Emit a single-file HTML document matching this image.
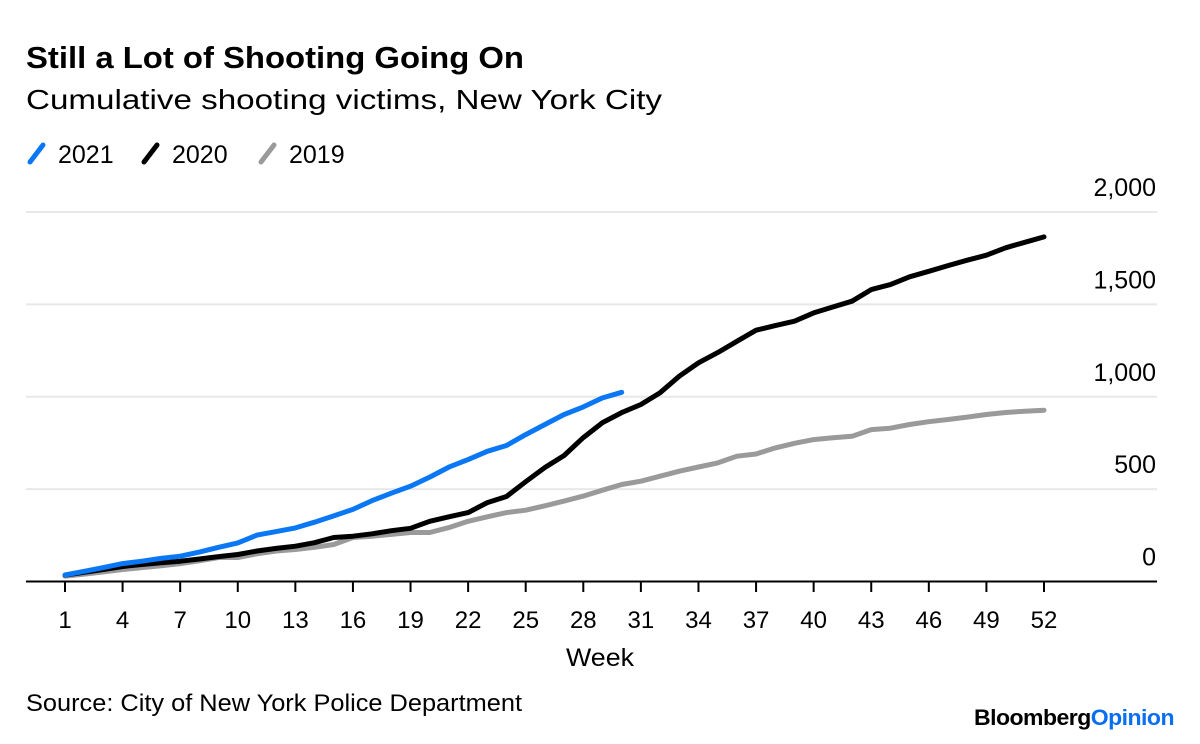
<!DOCTYPE html>
<html><head><meta charset="utf-8"><style>
body{margin:0;background:#fff;width:1200px;height:739px;overflow:hidden;font-family:"Liberation Sans",sans-serif}
</style></head><body>
<svg width="1200" height="739" xmlns="http://www.w3.org/2000/svg">
<text x="26" y="68" font-size="31" font-weight="bold" fill="#000" textLength="498" lengthAdjust="spacingAndGlyphs">Still a Lot of Shooting Going On</text>
<text x="26" y="109" font-size="28" fill="#000" textLength="636" lengthAdjust="spacingAndGlyphs">Cumulative shooting victims, New York City</text>
<g id="legend"></g>
<g id="grid"></g><g id="axis"></g><g id="series"></g>
<text x="600" y="666" font-size="25" text-anchor="middle" fill="#000" textLength="68" lengthAdjust="spacingAndGlyphs">Week</text>
<text x="26" y="711" font-size="24" fill="#000" textLength="496" lengthAdjust="spacingAndGlyphs">Source: City of New York Police Department</text>
<text x="974" y="725" font-size="22" font-weight="bold" textLength="200" lengthAdjust="spacingAndGlyphs" letter-spacing="-0.5"><tspan fill="#000">Bloomberg</tspan><tspan fill="#0a6ef0">Opinion</tspan></text>
</svg>
<script>
const weeks = Array.from({length:52},(_,i)=>i+1);
const xTicks = [1,4,7,10,13,16,19,22,25,28,31,34,37,40,43,46,49,52];
const yTicks = [0,500,1000,1500,2000];
const yTickLabels = ["0","500","1,000","1,500","2,000"];
const seriesNames = ["2021","2020","2019"];
const v2021 = [35,55,75,97,110,125,137,159,185,209,251,270,290,321,355,390,438,478,516,565,619,660,705,736,795,850,904,945,994,1024];
const v2020 = [34,50,65,81,92,102,110,122,135,146,165,179,191,210,238,245,258,275,288,326,350,373,427,460,540,617,682,779,860,914,958,1022,1111,1184,1239,1300,1360,1385,1409,1454,1486,1517,1580,1607,1649,1679,1710,1739,1766,1806,1836,1865];
const v2019 = [29,40,52,65,75,85,97,112,130,130,150,165,173,185,200,238,245,255,265,265,292,326,350,373,386,410,435,462,494,525,543,570,597,620,642,678,690,723,748,768,778,786,822,830,850,865,877,890,904,915,922,927];
const colors = ["#0a78f5","#000","#9a9a9a"];
const ns="http://www.w3.org/2000/svg";
const xs = w => 65 + (w-1)*(1044-65)/51;
const ys = v => 581.5 - v*(581.5-212)/2000;
function mk(tag,attrs,parent){const e=document.createElementNS(ns,tag);for(const k in attrs)e.setAttribute(k,attrs[k]);document.getElementById(parent).appendChild(e);return e;}
yTicks.forEach((t,i)=>{
  if(t>0){const g=mk('line',{x1:26,x2:1157,y1:ys(t),y2:ys(t),stroke:'#e8e8e8','stroke-width':2},'grid');
  
  }
  const l=mk('text',{x:1156,y:ys(t)-16,'font-size':25,'text-anchor':'end',fill:'#000'},'grid');
  l.textContent=yTickLabels[i];
  
  
});
const ax=mk('line',{x1:26,x2:1157,y1:581.5,y2:581.5,stroke:'#000','stroke-width':2},'axis');


xTicks.forEach(t=>{
  const tk=mk('line',{x1:xs(t),x2:xs(t),y1:581,y2:592,stroke:'#000','stroke-width':2},'axis');
  
  
  const l=mk('text',{x:xs(t),y:628,'font-size':24,'text-anchor':'middle',fill:'#000'},'axis');
  l.textContent=t;
  
  
});
const data=[v2021,v2020,v2019];
[2,1,0].forEach(i=>{
  const d=data[i].map((v,j)=>(j?'L':'M')+xs(weeks[j]).toFixed(1)+','+ys(v).toFixed(1)).join('');
  const p=mk('path',{d:d,fill:'none',stroke:colors[i],'stroke-width':5,'stroke-linejoin':'round','stroke-linecap':'round'},'series');
  
  
});
const lx=[30,144,261];
seriesNames.forEach((n,i)=>{
  const m=mk('line',{x1:lx[i],y1:162,x2:lx[i]+13,y2:145,stroke:colors[i],'stroke-width':5,'stroke-linecap':'round'},'legend');
  
  
  const t=mk('text',{x:lx[i]+28,y:163,'font-size':25,fill:'#000'},'legend');
  t.textContent=n;
  
  
});
</script>
</body></html>
